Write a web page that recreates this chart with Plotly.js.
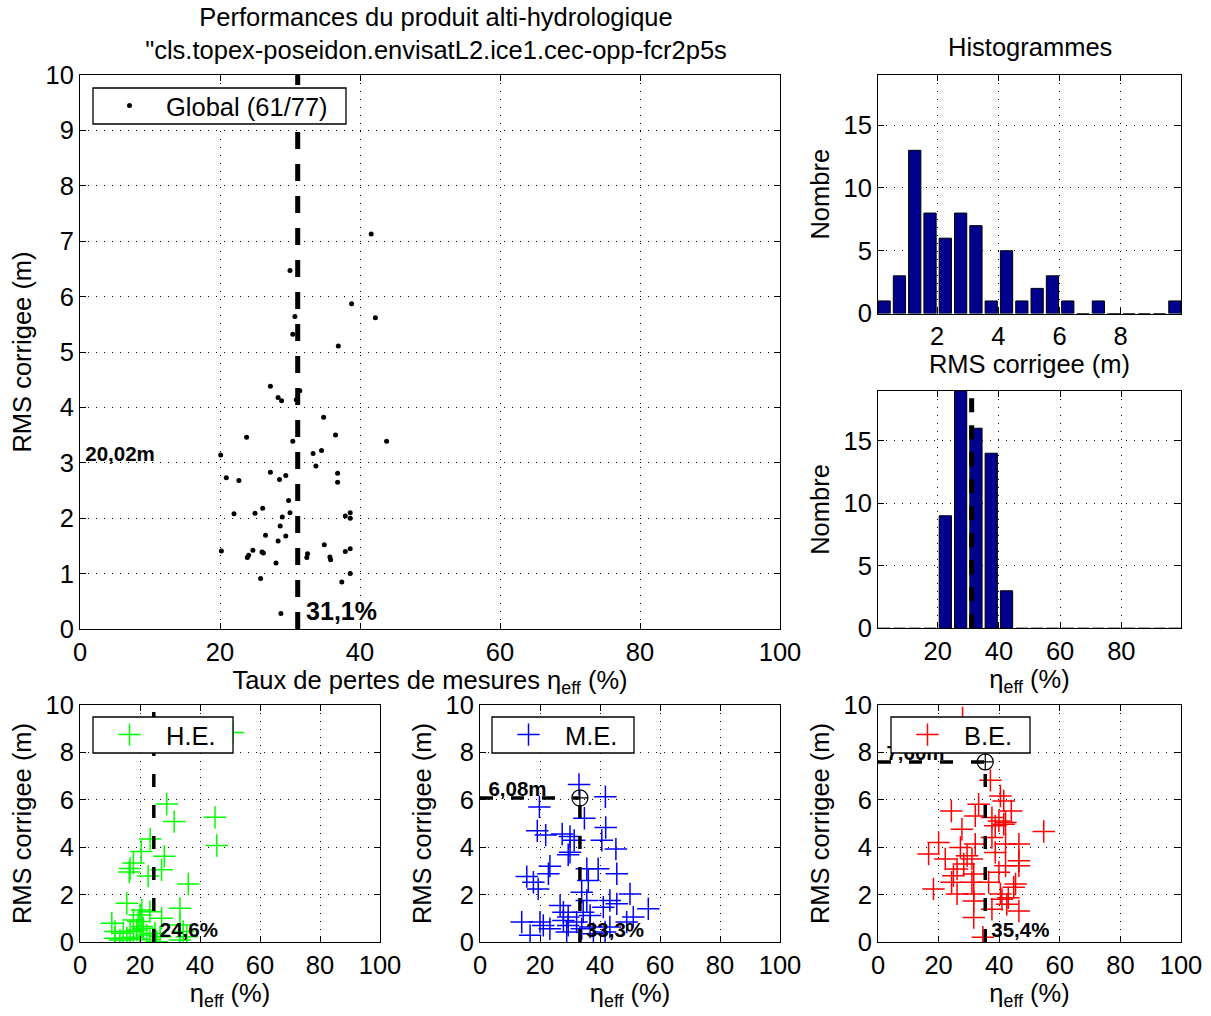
<!DOCTYPE html>
<html><head><meta charset="utf-8">
<script src="https://cdn.plot.ly/plotly-3.0.1.min.js"></script>
<style>body{margin:0;background:#fff}#chart{width:1211px;height:1016px}</style>
</head><body><div id="chart"></div>
<script>
// ---------- data ----------
const globalEta = [41.6,30.0,38.8,30.7,42.2,30.4,36.9,27.2,28.3,28.8,30.9,31.4,34.8,23.8,36.5,30.4,43.8,20.1,33.3,34.5,33.7,20.9,22.7,27.2,28.5,29.4,36.8,36.8,29.8,22.0,25.0,26.1,28.9,30.0,37.9,38.6,38.6,28.6,26.5,28.3,29.4,20.2,24.7,26.0,26.2,23.9,24.1,32.5,32.4,34.9,35.7,35.8,37.9,38.6,28.0,25.8,38.6,37.4,28.7];
const globalRms = [7.13,6.47,5.87,5.64,5.62,5.32,5.11,4.38,4.18,4.12,4.14,4.30,3.82,3.46,3.50,3.39,3.39,3.14,3.17,3.22,2.94,2.73,2.68,2.83,2.70,2.77,2.81,2.65,2.32,2.08,2.09,2.18,2.02,2.10,2.04,2.10,2.00,1.86,1.69,1.59,1.68,1.41,1.42,1.39,1.37,1.29,1.33,1.36,1.29,1.52,1.30,1.25,1.40,1.45,1.19,0.91,1.00,0.85,0.28];

const heEta = [51,28.9,31.4,45,23.4,45.6,20.4,28.1,17.8,16.7,16.4,27.2,22.7,36.1,15.6,33.3,20.6,23.3,20,27.2,17.8,10.6,19.4,20.6,33.3,11.7,14.4,16.7,18.9,21.1,22.2,25,26.7,34.4,35.6,11.7,15.6,17.8,20,25.6,33.3,13.3,23.3];
const heRms = [8.84,5.82,5.08,5.26,4.35,4.07,3.82,3.62,3.33,3.1,2.95,3.05,2.78,2.45,1.63,1.42,1.35,1.28,1.14,1.0,0.93,0.79,0.86,0.65,0.72,0.44,0.37,0.44,0.51,0.58,0.30,0.37,0.22,0.44,0.22,0.16,0.16,0.20,0.11,0.01,0.08,0.08,0.11];

const meEta = [33,41.8,19.8,34.8,41.9,19.1,21.9,27.4,30,31.4,40.6,45.3,30,29.4,23.3,22.8,15.6,17.8,19.4,35.6,39.4,45.6,36.1,33.9,50,35.6,43.3,45.6,41.1,56.1,26.7,27.8,29.4,34.4,36.7,13.9,20,21.1,23.3,27.8,29.4,32.2,33.9,36.7,43.3,48.9,51.1,16.7,28.9,41.7,37.8];
const meRms = [6.65,6.13,5.70,5.22,4.83,4.69,4.51,4.56,4.45,4.29,4.29,3.92,3.79,3.68,3.2,2.88,2.76,2.52,2.24,3.09,3.09,2.88,2.59,2.10,2.03,1.75,1.75,1.61,1.47,1.40,1.54,1.26,1.05,1.26,1.12,0.84,0.84,0.70,0.56,0.91,0.70,0.84,0.56,0.63,0.63,0.84,1.05,0.28,0.42,0.42,0.35];

const beEta = [27.9,37.1,40.4,41.5,24.2,33.2,44.0,32.1,37.6,39.9,42.1,41.5,38.7,27.7,54.7,37.6,20.0,16.7,27.2,32.1,42.1,46.5,38.7,22.2,29.4,31.0,46.5,46.5,28.3,26.1,42.1,39.9,24.9,31.6,36.5,24.3,31.0,45.4,44.8,18.3,26.1,31.6,40.4,40.9,43.0,42.5,37.6,31.6,46.5,31.6,34.6];
const beRms = [9.45,6.82,6.16,5.95,5.53,5.81,5.53,5.32,5.25,5.11,5.04,4.97,4.90,4.76,4.66,4.41,4.20,3.71,3.99,4.13,4.13,4.13,3.78,3.50,3.64,3.50,3.43,3.22,3.29,3.08,3.22,2.94,2.80,2.87,2.52,2.52,2.52,2.45,2.31,2.24,2.03,2.03,2.03,1.80,1.87,1.59,1.38,1.73,1.31,1.03,0.20];

// medians: [global, H.E., M.E., B.E.]
const medEta = [31.1, 24.6, 33.3, 35.4];
const medRms = [20.02, null, 6.08, 7.60];
const medEtaLabels = ['31,1%', '24,6%', '33,3%', '35,4%'];
const medRmsLabels = ['20,02m', null, '6,08m', '7,60m'];

// histograms
const rmsBinCenters = [0.27,0.77,1.27,1.77,2.27,2.77,3.27,3.77,4.27,4.77,5.27,5.77,6.27,6.77,7.27,7.77,8.27,8.77,9.27,9.77];
const rmsCounts = [1,3,13,8,6,8,7,1,5,1,2,3,1,0,1,0,0,0,0,1];
const etaBinCenters = [2.5,7.5,12.5,17.5,22.5,27.5,32.5,37.5,42.5,47.5,52.5,57.5,62.5,67.5,72.5,77.5,82.5,87.5,92.5,97.5];
const etaCounts = [0,0,0,0,9,19,16,14,3,0,0,0,0,0,0,0,0,0,0,0];
const histMax = 19;
const rmsAxisMax = 10;

const legendNames = ['Global (61/77)', 'H.E.', 'M.E.', 'B.E.'];
const mainTitle = 'Performances du produit alti-hydrologique<br>"cls.topex-poseidon.envisatL2.ice1.cec-opp-fcr2p5s';

// ---------- build ----------
const FONT = 'Liberation Sans, Arial, Helvetica, sans-serif';
const FS = 25.5;
const W = 1211, H = 1016;
const px = v => v / W;
const py = v => 1 - v / H;

const traces = [];
// main scatter
traces.push({type:'scatter', mode:'markers', x: globalEta, y: globalRms, xaxis:'x', yaxis:'y',
  name: legendNames[0], legend:'legend', marker:{color:'#000', size:5}, showlegend:true});
// main median lines
traces.push({type:'scatter', mode:'lines', x:[medEta[0], medEta[0]], y:[0, medRms[0]], xaxis:'x', yaxis:'y',
  line:{color:'#000', width:5, dash:'17px,15px'}, showlegend:false, hoverinfo:'skip'});
traces.push({type:'scatter', mode:'lines', x:[0, medEta[0]], y:[medRms[0], medRms[0]], xaxis:'x', yaxis:'y',
  line:{color:'#000', width:5, dash:'17px,15px'}, showlegend:false, hoverinfo:'skip'});
// main median labels
traces.push({type:'scatter', mode:'text', x:[medEta[0] + 1.2], y:[0.27], text:['<b>' + medEtaLabels[0] + '</b>'],
  textposition:'middle right', textfont:{size:25, color:'#000', family:FONT}, cliponaxis:false,
  xaxis:'x', yaxis:'y', showlegend:false, hoverinfo:'skip'});
traces.push({type:'scatter', mode:'text', x:[0.75], y:[3.12], text:['<b>' + medRmsLabels[0] + '</b>'],
  textposition:'middle right', textfont:{size:20.5, color:'#000', family:FONT}, cliponaxis:false,
  xaxis:'x', yaxis:'y', showlegend:false, hoverinfo:'skip'});

// histograms
traces.push({type:'bar', x: rmsBinCenters, y: rmsCounts, width:0.4, xaxis:'x2', yaxis:'y2',
  marker:{color:'#00008F', line:{color:'#000', width:1}}, showlegend:false});
traces.push({type:'bar', x: etaBinCenters, y: etaCounts, width:4, xaxis:'x3', yaxis:'y3',
  marker:{color:'#00008F', line:{color:'#000', width:1}}, showlegend:false});
traces.push({type:'scatter', mode:'lines', x:[medEta[0], medEta[0]], y:[0, histMax], xaxis:'x3', yaxis:'y3',
  line:{color:'#000', width:5, dash:'14px,13px'}, showlegend:false, hoverinfo:'skip'});

// bottom panels
const sub = [
  {eta: heEta, rms: heRms, color:'#00FF00', xa:'x4', ya:'y4', lg:'legend2', i:1},
  {eta: meEta, rms: meRms, color:'#0000FF', xa:'x5', ya:'y5', lg:'legend3', i:2},
  {eta: beEta, rms: beRms, color:'#FF0000', xa:'x6', ya:'y6', lg:'legend4', i:3}
];
sub.forEach(s => {
  traces.push({type:'scatter', mode:'markers', x: s.eta, y: s.rms, xaxis:s.xa, yaxis:s.ya,
    name: legendNames[s.i], legend: s.lg, showlegend:true,
    marker:{symbol:'cross-thin', size:16, color:s.color, line:{color:s.color, width:1.5}}});
  const top = medRms[s.i] === null ? rmsAxisMax : medRms[s.i];
  traces.push({type:'scatter', mode:'lines', x:[medEta[s.i], medEta[s.i]], y:[0, top], xaxis:s.xa, yaxis:s.ya,
    line:{color:'#000', width:3.5, dash:'13px,18px'}, showlegend:false, hoverinfo:'skip'});
  traces.push({type:'scatter', mode:'text', x:[medEta[s.i] + 2.0], y:[0.42], text:['<b>' + medEtaLabels[s.i] + '</b>'],
    textposition:'middle right', textfont:{size:20.5, color:'#000', family:FONT}, cliponaxis:false,
    xaxis:s.xa, yaxis:s.ya, showlegend:false, hoverinfo:'skip'});
  if (medRms[s.i] !== null) {
    traces.push({type:'scatter', mode:'lines', x:[0, medEta[s.i]], y:[medRms[s.i], medRms[s.i]], xaxis:s.xa, yaxis:s.ya,
      line:{color:'#000', width:3.5, dash:'13px,18px'}, showlegend:false, hoverinfo:'skip'});
    traces.push({type:'scatter', mode:'markers', x:[medEta[s.i]], y:[medRms[s.i]], xaxis:s.xa, yaxis:s.ya,
      marker:{symbol:'circle-cross-open', size:16, color:'#000', line:{width:1.2}}, showlegend:false, hoverinfo:'skip'});
    traces.push({type:'scatter', mode:'text', x:[2.8], y:[medRms[s.i] + 0.31], text:['<b>' + medRmsLabels[s.i] + '</b>'],
      textposition:'middle right', textfont:{size:20.5, color:'#000', family:FONT}, cliponaxis:false,
      xaxis:s.xa, yaxis:s.ya, showlegend:false, hoverinfo:'skip'});
  }
});

function axis(extra) {
  return Object.assign({
    showline:true, linecolor:'#000', linewidth:1, mirror:'ticks',
    ticks:'inside', ticklen:6, tickcolor:'#000', tickwidth:1,
    showgrid:true, gridcolor:'#000', griddash:'1px,7px', gridwidth:1,
    zeroline:false, tickfont:{size:FS, color:'#000', family:FONT},
    automargin:false, fixedrange:true
  }, extra);
}
const tfont = {size:FS, color:'#000', family:FONT};
const etaTitle = '\u03b7<sub>eff</sub> (%)';
const rmsTitle = 'RMS corrigee (m)';

const lgBase = {xanchor:'left', yanchor:'middle', bgcolor:'rgba(0,0,0,0)', borderwidth:0,
  font:{size:FS, color:'#000', family:FONT}, itemwidth:63, tracegroupgap:0};

// legend boxes (pixel rectangles of the reference layout)
const legendBoxes = [[93,88,346,124],[93,717,233,753],[492,717,634,753],[891,717,1030,753]];

const layout = {
  width:W, height:H, margin:{l:0,r:0,t:0,b:0}, paper_bgcolor:'#fff', plot_bgcolor:'#fff',
  font:{family:FONT, color:'#000', size:FS},
  title:{text: mainTitle, font:{size:FS, color:'#000', family:FONT}, x: px(436), xanchor:'center', xref:'paper',
    y: py(25.5), yanchor:'top', yref:'container'},
  xaxis: axis({domain:[px(80), px(780)], range:[0,100], tickvals:[0,20,40,60,80,100], anchor:'y',
    title:{text:'Taux de pertes de mesures ' + etaTitle, font:tfont, standoff:0}}),
  yaxis: axis({domain:[py(629), py(75)], range:[0,10], dtick:1, anchor:'x',
    title:{text:rmsTitle, font:tfont, standoff:6}}),
  xaxis2: axis({domain:[px(878), px(1181)], range:[0.07,9.97], tickvals:[2,4,6,8], anchor:'y2',
    title:{text:rmsTitle, font:tfont, standoff:6}}),
  yaxis2: axis({domain:[py(313.5), py(75)], range:[0,histMax], tickvals:[0,5,10,15], anchor:'x2',
    title:{text:'Nombre', font:tfont, standoff:6}}),
  xaxis3: axis({domain:[px(878), px(1181)], range:[0.5,99.5], tickvals:[20,40,60,80], anchor:'y3',
    title:{text:etaTitle, font:tfont, standoff:0}}),
  yaxis3: axis({domain:[py(628.3), py(390.7)], range:[0,histMax], tickvals:[0,5,10,15], anchor:'x3',
    title:{text:'Nombre', font:tfont, standoff:6}}),
  legend:  Object.assign({}, lgBase, {x:px(93),  y:py(106)}),
  legend2: Object.assign({}, lgBase, {x:px(93),  y:py(735)}),
  legend3: Object.assign({}, lgBase, {x:px(492), y:py(735)}),
  legend4: Object.assign({}, lgBase, {x:px(891), y:py(735)}),
  shapes: legendBoxes.map(b => ({type:'rect', xref:'paper', yref:'paper', layer:'above',
    x0:px(b[0]), x1:px(b[2]), y0:py(b[3]), y1:py(b[1]), fillcolor:'#fff', line:{color:'#000', width:1.3}})),
  annotations: [{text:'Histogrammes', xref:'paper', yref:'paper', x:px(1030), y:py(47),
    xanchor:'center', yanchor:'middle', showarrow:false, font:tfont}],
  showlegend:true
};
const bottomX = [[80,380],[480,780],[878,1181]];
sub.forEach((s, k) => {
  const n = k + 4;
  layout['xaxis' + n] = axis({domain:[px(bottomX[k][0]), px(bottomX[k][1])], range:[0,100],
    tickvals:[0,20,40,60,80,100], anchor:'y' + n, title:{text:etaTitle, font:tfont, standoff:0}});
  layout['yaxis' + n] = axis({domain:[py(942), py(705)], range:[0,rmsAxisMax], tickvals:[0,2,4,6,8,10],
    anchor:'x' + n, title:{text:rmsTitle, font:tfont, standoff:6}});
});

Plotly.newPlot('chart', traces, layout, {staticPlot:true});
</script>
</body></html>
